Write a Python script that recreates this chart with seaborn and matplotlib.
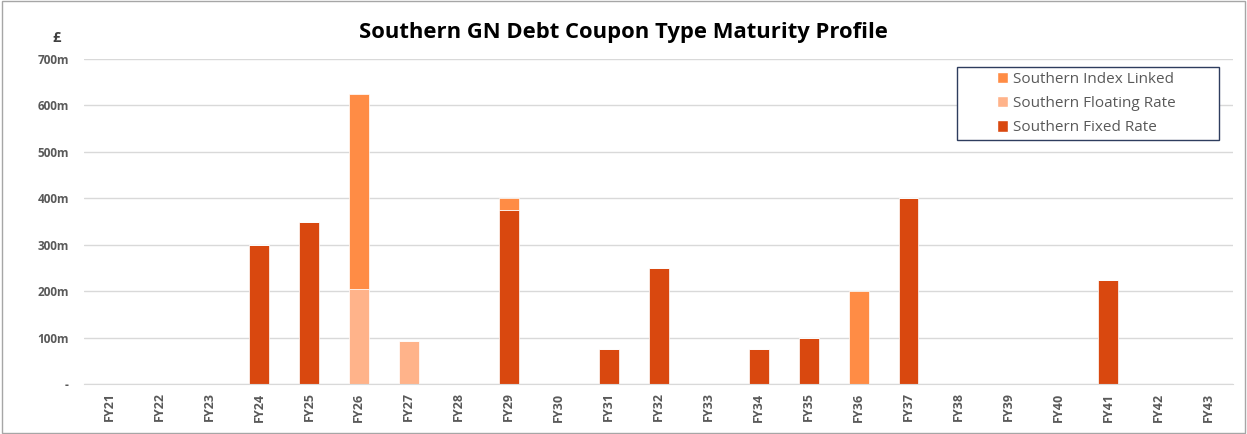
import numpy as np
import pandas as pd
import matplotlib
matplotlib.use("Agg")
import matplotlib.pyplot as plt
import seaborn as sns
from matplotlib.patches import Patch, Rectangle

years = ['FY21', 'FY22', 'FY23', 'FY24', 'FY25', 'FY26', 'FY27', 'FY28', 'FY29', 'FY30', 'FY31',
         'FY32', 'FY33', 'FY34', 'FY35', 'FY36', 'FY37', 'FY38', 'FY39', 'FY40', 'FY41', 'FY42', 'FY43']
fixed_rate = [0, 0, 0, 300, 350, 0, 0, 0, 375, 0, 75, 250, 0, 75, 100, 0, 400, 0, 0, 0, 225, 0, 0]
floating_rate = [0, 0, 0, 0, 0, 205, 93, 0, 0, 0, 0, 0, 0, 0, 0, 0, 0, 0, 0, 0, 0, 0, 0]
index_linked = [0, 0, 0, 0, 0, 420, 0, 0, 25, 0, 0, 0, 0, 0, 0, 200, 0, 0, 0, 0, 0, 0, 0]
series_names = ['Southern Fixed Rate', 'Southern Floating Rate', 'Southern Index Linked']
series_colors = ['#D9480F', '#FFB38A', '#FF8C45']
y_ticks = [0, 100, 200, 300, 400, 500, 600, 700]
y_labels = ['-', '100m', '200m', '300m', '400m', '500m', '600m', '700m']

sns.set_style('white')
plt.rcParams['font.family'] = ['Open Sans', 'DejaVu Sans']

fig = plt.figure(figsize=(12.47, 4.34), dpi=100)
ax = fig.add_axes([0.0674, 0.115, 0.9216, 0.749])

df = pd.DataFrame({'year': years, series_names[0]: fixed_rate,
                   series_names[1]: floating_rate, series_names[2]: index_linked})

base = np.zeros(len(years))
for name, col in zip(series_names, series_colors):
    sns.barplot(data=df, x='year', y=name, color=col, width=0.4, bottom=base,
                saturation=1, ax=ax, errorbar=None, edgecolor='white', linewidth=0.5)
    base = base + df[name].to_numpy()

ax.set_ylim(0, 700)
ax.set_xlim(-0.5, len(years) - 0.5)
ax.set_yticks(y_ticks)
ax.set_yticklabels(y_labels)
ax.yaxis.grid(True, color='#D9D9D9', linewidth=1)
ax.set_axisbelow(True)
for s in ['top', 'right', 'left']:
    ax.spines[s].set_visible(False)
ax.spines['bottom'].set_color('#D9D9D9')
ax.tick_params(axis='both', length=0, colors='#595959')
ax.tick_params(axis='y', pad=11)
ax.tick_params(axis='x', pad=6)
plt.setp(ax.get_xticklabels(), rotation=90, fontsize=9, fontweight='bold', color='#595959')
plt.setp(ax.get_yticklabels(), fontsize=8.5, fontweight='bold', color='#595959')
ax.set_xlabel('')
ax.set_ylabel('')

ax.text(-0.024, 1.066, '£', transform=ax.transAxes, ha='center', va='center',
        fontsize=10.5, fontweight='bold', color='#404040')

fig.suptitle('Southern GN Debt Coupon Type Maturity Profile', x=0.5, y=0.95,
             fontsize=15.8, fontweight='bold', color='black')

# legend box drawn separately so its padding matches the wide frame
ax.add_patch(Rectangle((0.760, 0.751), 0.228, 0.2246, transform=ax.transAxes,
                       facecolor='white', edgecolor='#2E3D5E', linewidth=1, zorder=4))
handles = [Patch(facecolor=c, label=n) for n, c in zip(series_names, series_colors)][::-1]
leg = ax.legend(handles=handles, loc='upper left', bbox_to_anchor=(0.794, 0.96),
                fontsize=11, frameon=False, handlelength=0.75,
                handleheight=0.75, handletextpad=0.35, labelspacing=0.6,
                borderpad=0, borderaxespad=0)
leg.set_zorder(5)
for t in leg.get_texts():
    t.set_color('#595959')

fig.patches.append(Rectangle((0.002, 0.003), 0.996, 0.994, transform=fig.transFigure,
                             fill=False, edgecolor='#A6A6A6', linewidth=1))

fig.savefig('out.png', dpi=100)
